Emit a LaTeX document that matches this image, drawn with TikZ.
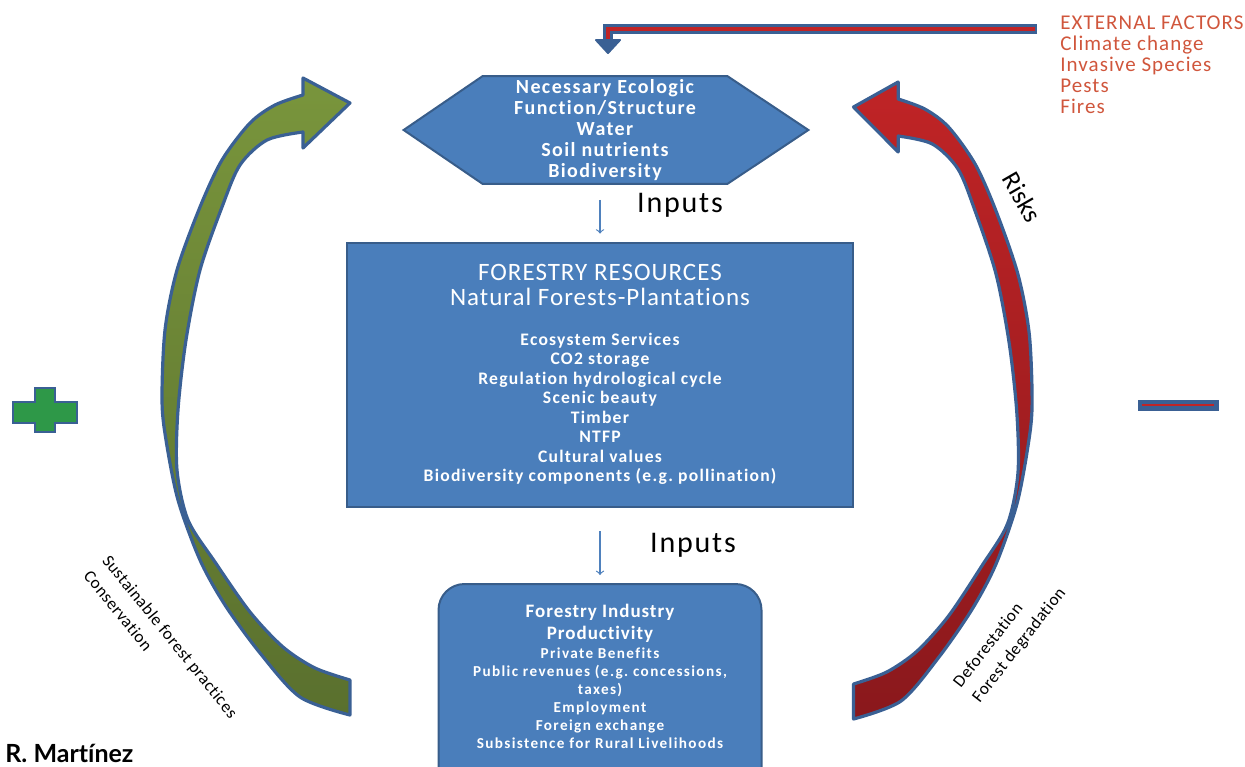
\documentclass[tikz,border=0pt]{standalone}
\usepackage{fontspec}
\setmainfont{Carlito}[Ligatures=NoCommon]
\newfontfamily\authorfont{Lato}[Ligatures=NoCommon]
\usetikzlibrary{calc,backgrounds,positioning}

\definecolor{boxblue}{RGB}{74,126,187}
\definecolor{boxedge}{RGB}{56,93,138}
\definecolor{arrowedge}{RGB}{58,96,148}
\definecolor{leafgreen}{RGB}{121,149,60}
\definecolor{leafdark}{RGB}{90,112,46}
\definecolor{riskred}{RGB}{192,36,38}
\definecolor{riskdark}{RGB}{138,24,28}
\definecolor{extred}{RGB}{208,86,60}
\definecolor{plusgreen}{RGB}{46,152,72}
\definecolor{inblue}{RGB}{79,129,189}

% outline of the bent block arrow (left one, pointing right)
\newcommand{\bowarrowpath}{%
  plot[smooth] coordinates {(350,715) (300,697) (260,653) (225,605) (200,560) (178,500)
    (166,440) (162,400) (165,330) (177,270) (200,207) (222,160) (250,123) (275,105) (303,95)}
  -- (303,78) -- (350,103) -- (303,148) -- (303,132)
  -- plot[smooth] coordinates {(303,132) (267,140) (240,165) (222,207) (200,270) (186,340)
    (178,410) (177,470) (188,520) (215,562) (250,612) (283,647) (315,668) (350,680)}
  -- cycle}

\begin{document}
\begin{tikzpicture}[x=0.5pt,y=-0.5pt,>=stealth,
  boxtext/.style={text=white,align=center,inner sep=0pt},
  bluebox/.style={fill=boxblue,draw=boxedge,line width=1pt},
  bigarrow/.style={draw=arrowedge,line width=1.6pt,line join=round},
  inarrow/.style={inblue,line width=0.6pt,-to},
  inlabel/.style={font=\fontsize{15}{15}\selectfont\addfontfeature{LetterSpace=6},inner sep=0pt},
  sidelabel/.style={font=\fontsize{8.6}{12}\selectfont\addfontfeature{LetterSpace=3},
    align=left,inner sep=0pt}]
  \useasboundingbox (0,0) rectangle (1245,766);

  % ecological function (hexagon)
  \node[boxtext,minimum width=122pt,minimum height=53.5pt,
        font=\fontsize{10}{10.6}\selectfont\bfseries\addfontfeature{LetterSpace=7}] (eco) at (605,130)
        {Necessary Ecologic\\Function/Structure\\Water\\Soil nutrients\\Biodiversity};
  \begin{scope}[on background layer]
    \draw[bluebox] (eco.north west) -- (eco.north east) -- ($(eco.east)+(81,0)$)
      -- (eco.south east) -- (eco.south west) -- ($(eco.west)+(-79,0)$) -- cycle;
  \end{scope}

  % forestry resources
  \node[bluebox,line width=1.4pt,minimum width=253pt,minimum height=132pt] (res) at (600,375) {};
  \node[boxtext,font=\fontsize{12.5}{12.5}\selectfont\addfontfeature{LetterSpace=4}]
    (reshead) at ($(res.north)+(0,43)$) {FORESTRY RESOURCES\\Natural Forests-Plantations};
  \node[boxtext,font=\fontsize{8.8}{9.75}\selectfont\bfseries\addfontfeature{LetterSpace=7}]
    (reslist) at ($(res.north)+(0,167)$)
    {Ecosystem Services\\CO2 storage\\Regulation hydrological cycle\\Scenic beauty\\
     Timber\\NTFP\\Cultural values\\Biodiversity components (e.g.\ pollination)};

  % forestry industry
  \node[bluebox,rounded corners=13pt,minimum width=161.5pt,minimum height=110pt,
        anchor=north] (ind) at (600,583) {};
  \node[boxtext,font=\fontsize{9.5}{11}\selectfont\bfseries\addfontfeature{LetterSpace=5}]
    (indhead) at ($(ind.north)+(0,40)$) {Forestry Industry\\Productivity};
  \node[boxtext,font=\fontsize{7.6}{9}\selectfont\bfseries\addfontfeature{LetterSpace=9}]
    (indlist) at ($(ind.north)+(0,115)$)
    {Private Benefits\\Public revenues (e.g.\ concessions,\\taxes)\\Employment\\
     Foreign exchange\\Subsistence for Rural Livelihoods};

  \draw[inarrow,shorten <=8pt,shorten >=4pt] (eco.south -| res.north) -- (res.north);
  \draw[inarrow,shorten <=11.5pt,shorten >=4pt] (res.south) -- (ind.north);
  \node[inlabel] (inp1) at (680,205) {Inputs};
  \node[inlabel] (inp2) at (693,545) {Inputs};

  % external factors
  \node[font=\fontsize{10.5}{10.6}\selectfont\addfontfeature{LetterSpace=5},text=extred,
        align=left,inner sep=0pt,anchor=north west] (ext) at (1060,15)
        {EXTERNAL FACTORS\\Climate change\\Invasive Species\\Pests\\Fires};
  \coordinate (extstart) at (1037,29);
  \coordinate (extbend) at (608,29);
  \coordinate (exttip) at (608,53);
  \draw[arrowedge,line width=4.6pt] (extstart) -- (extbend) -- ($(extbend)+(0,12)$);
  \draw[riskred,line width=2.2pt] ($(extstart)+(-2,0)$) -- (extbend) -- ($(extbend)+(0,12)$);
  \draw[fill=arrowedge,draw=arrowedge,line width=1pt,line join=round]
    ($(exttip)+(-12,-13)$) -- (exttip) -- ($(exttip)+(12,-13)$) -- cycle;

  % left and right bent arrows
  \draw[bigarrow,top color=leafgreen,bottom color=leafdark] \bowarrowpath;
  \begin{scope}[shift={(1186,4)},xscale=-0.95]
    \draw[bigarrow,top color=riskred,bottom color=riskdark] \bowarrowpath;
  \end{scope}

  \node[sidelabel,rotate=-51] (sustxt) at (161,644) {Sustainable forest practices\\Conservation};
  \node[sidelabel,rotate=52] (degtxt) at (1010,638) {Deforestation\\Forest degradation};
  \node[font=\fontsize{13}{13}\selectfont,rotate=-60,inner sep=0pt] (risktxt) at (1022,197) {Risks};

  % plus and minus
  \draw[fill=plusgreen,draw=arrowedge,line width=1.2pt]
    (35,388) -- (55,388) -- (55,402) -- (77,402) -- (77,423) -- (55,423) -- (55,432)
    -- (35,432) -- (35,423) -- (13,423) -- (13,402) -- (35,402) -- cycle;
  \draw[fill=arrowedge,draw=arrowedge] (1138,400) rectangle (1218,410);
  \draw[riskred,line width=1.2pt] (1142,405) -- (1214,405);

  \node[anchor=base west,inner sep=0pt,font=\fontsize{12.5}{14}\selectfont\authorfont\bfseries]
    (author) at (5,762) {R. Martínez};
\end{tikzpicture}
\end{document}
